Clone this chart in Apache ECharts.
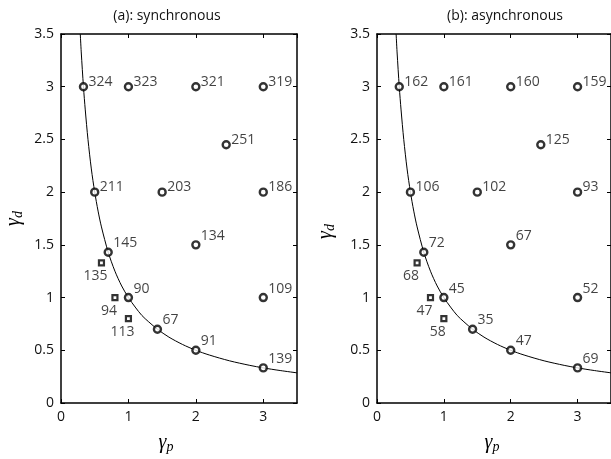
<!DOCTYPE html>
<html>
<head>
<meta charset="utf-8">
<script src="https://cdn.jsdelivr.net/npm/echarts@6/dist/echarts.min.js"></script>
<style>
  html, body { margin: 0; padding: 0; background: #fff; }
  #chart { width: 611px; height: 459px; }
</style>
</head>
<body>
<div id="chart"></div>
<script>
// points on the grid (circles), both panels share positions
var circleX = [0.333, 1, 2, 3, 2.45, 0.5, 1.5, 3, 0.7, 2, 1, 3, 1.43, 2, 3];
var circleY = [3, 3, 3, 3, 2.45, 2, 2, 2, 1.43, 1.5, 1, 1, 0.7, 0.5, 0.333];
var syncCircle = [324, 323, 321, 319, 251, 211, 203, 186, 145, 134, 90, 109, 67, 91, 139];
var asyncCircle = [162, 161, 160, 159, 125, 106, 102, 93, 72, 67, 45, 52, 35, 47, 69];

// square markers
var squareX = [0.6, 0.8, 1.0];
var squareY = [1.33, 1.0, 0.8];
var syncSquare = [135, 94, 113];
var asyncSquare = [68, 47, 58];

// the curve
var curveX = [0.286, 0.3, 0.333, 0.36, 0.4, 0.45, 0.5, 0.55, 0.6, 0.7, 0.8, 0.9, 1, 1.1, 1.2, 1.3, 1.43, 1.6, 1.8, 2, 2.2, 2.5, 2.8, 3, 3.25, 3.5];
var curveY = [3.5, 3.33, 3, 2.78, 2.5, 2.22, 2, 1.82, 1.67, 1.43, 1.25, 1.11, 1, 0.91, 0.83, 0.77, 0.7, 0.625, 0.556, 0.5, 0.455, 0.4, 0.357, 0.333, 0.308, 0.286];

var titles = ['(a): synchronous', '(b): asynchronous'];

var font = 'Open Sans';
var fs = 14;
var myChart = echarts.init(document.getElementById('chart'));

var gammaRich = {
  g: { fontFamily: 'Liberation Serif', fontStyle: 'italic', fontSize: 20, color: '#000' },
  s: { fontFamily: 'Liberation Serif', fontStyle: 'italic', fontSize: 14, color: '#000', padding: [9, 0, 0, 0] }
};

function circleData(vals) {
  return circleX.map(function (x, i) {
    return {
      value: [x, circleY[i], vals[i]],
      label: { offset: circleY[i] >= 2 ? [5, -5] : [5, -9] }
    };
  });
}
function squareData(vals) {
  return squareX.map(function (x, i) {
    return { value: [x, squareY[i], vals[i]] };
  });
}

var grids = [
  { left: 61, top: 34, width: 236, height: 372 },
  { left: 377, top: 34, width: 235, height: 372 }
];

var axisLine = { show: true, onZero: false, lineStyle: { color: '#000', width: 1.5 } };
var tick = { show: true, inside: true, length: 4, lineStyle: { color: '#000', width: 1 } };

var xAxes = [], yAxes = [], series = [];
var yNameGap = [36, 40];
grids.forEach(function (g, k) {
  xAxes.push({
    gridIndex: k, type: 'value', min: 0, max: 3.5, interval: 1, position: 'bottom',
    axisLine: axisLine, axisTick: tick, splitLine: { show: false },
    axisLabel: { color: '#111', fontSize: fs, fontFamily: font, margin: 7, showMaxLabel: false },
    name: '{g|γ}{s|p}', nameLocation: 'middle', nameGap: 28,
    nameTextStyle: { rich: gammaRich, padding: k === 0 ? [0, 26, 0, 0] : [0, 4, 0, 0] }
  });
  xAxes.push({
    gridIndex: k, type: 'value', min: 0, max: 3.5, interval: 1, position: 'top',
    axisLine: axisLine, axisTick: tick, splitLine: { show: false }, axisLabel: { show: false }
  });
  yAxes.push({
    gridIndex: k, type: 'value', min: 0, max: 3.5, interval: 0.5, position: 'left',
    axisLine: axisLine, axisTick: tick, splitLine: { show: false },
    axisLabel: { color: '#111', fontSize: fs, fontFamily: font, margin: 7 },
    name: '{g|γ}{s|d}', nameLocation: 'middle', nameGap: yNameGap[k], nameRotate: 90,
    nameTextStyle: { rich: gammaRich, padding: k === 0 ? [0, 0, 0, 0] : [0, 26, 0, 0] }
  });
  yAxes.push({
    gridIndex: k, type: 'value', min: 0, max: 3.5, interval: 0.5, position: 'right',
    axisLine: axisLine, axisTick: tick, splitLine: { show: false }, axisLabel: { show: false }
  });

  var xi = k * 2, yi = k * 2;
  series.push({
    type: 'line', xAxisIndex: xi, yAxisIndex: yi, showSymbol: false, symbol: 'none',
    smooth: 0.3, silent: true,
    lineStyle: { color: '#000', width: 1 },
    data: curveX.map(function (x, i) { return [x, curveY[i]]; }),
    z: 2
  });
  series.push({
    type: 'scatter', xAxisIndex: xi, yAxisIndex: yi, symbol: 'circle', symbolSize: 7,
    itemStyle: { color: '#fff', borderColor: '#000', borderWidth: 2.4 },
    label: {
      show: true, position: 'inside', align: 'left', verticalAlign: 'middle',
      color: '#111', fontSize: fs, fontFamily: font,
      formatter: function (p) { return p.value[2]; }
    },
    data: circleData(k === 0 ? syncCircle : asyncCircle),
    z: 3
  });
  series.push({
    type: 'scatter', xAxisIndex: xi, yAxisIndex: yi, symbol: 'rect', symbolSize: 5,
    itemStyle: { color: '#fff', borderColor: '#000', borderWidth: 2.2 },
    label: {
      show: true, position: 'inside', align: 'center', verticalAlign: 'middle',
      offset: [-6, 13], color: '#111', fontSize: fs, fontFamily: font,
      formatter: function (p) { return p.value[2]; }
    },
    data: squareData(k === 0 ? syncSquare : asyncSquare),
    z: 3
  });
});

var option = {
  animation: false,
  backgroundColor: '#fff',
  title: [
    { text: titles[0], left: 162, top: 4, textAlign: 'center', textStyle: { fontSize: fs, fontWeight: 'normal', fontFamily: font, color: '#111' } },
    { text: titles[1], left: 500, top: 4, textAlign: 'center', textStyle: { fontSize: fs, fontWeight: 'normal', fontFamily: font, color: '#111' } }
  ],
  grid: grids,
  xAxis: xAxes,
  yAxis: yAxes,
  series: series
};
myChart.setOption(option);
</script>
</body>
</html>
